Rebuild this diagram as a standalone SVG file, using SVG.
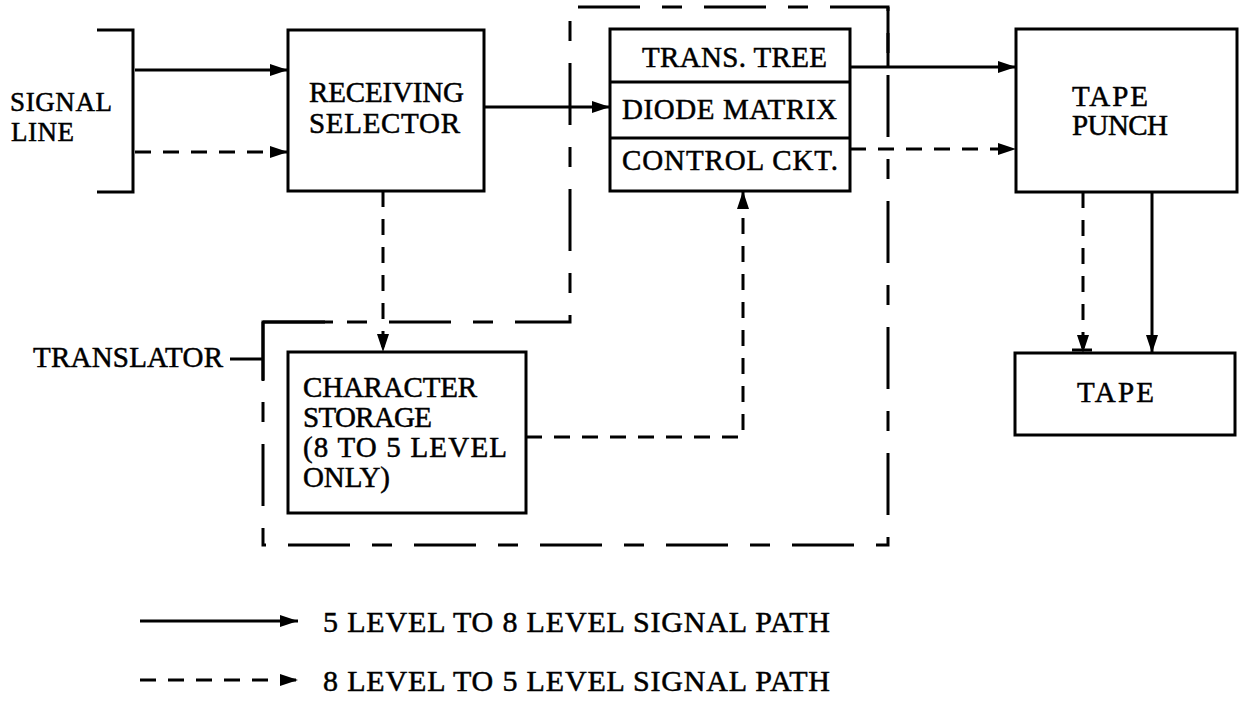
<svg xmlns="http://www.w3.org/2000/svg" width="1241" height="711" viewBox="0 0 1241 711">
<defs>
<marker id="ah" markerUnits="userSpaceOnUse" markerWidth="18" markerHeight="12" refX="18" refY="6" orient="auto" viewBox="0 0 18 12"><path d="M0,0 L18,6 L0,12 z" fill="#000"/></marker>
</defs>
<style>
text{font-family:"Liberation Serif","Times New Roman",serif;font-size:29px;fill:#000;stroke:#000;stroke-width:0.5}
.lg{font-size:30px}
.sm{font-size:27px}
.box{fill:#fff;stroke:#000;stroke-width:3}
.s{fill:none;stroke:#000;stroke-width:3}
.d{fill:none;stroke:#000;stroke-width:3;stroke-dasharray:16 12}
.t{fill:none;stroke:#000;stroke-width:3;stroke-dasharray:62 22 20 22}
</style>
<rect width="1241" height="711" fill="#fff"/>
<g id="translator">
<path class="t" d="M263,322 H570 V7 H888 V545 H263 Z"/>
<path class="s" d="M888,7 V67 M263,322 V381 M263,322 H333"/>
<path class="s" d="M230,359 H263"/>
<text x="33" y="367" textLength="190" lengthAdjust="spacing">TRANSLATOR</text>
</g>
<g id="signal-line">
<path class="s" d="M97,30 H133 V192 H97"/>
<text class="sm" x="10" y="111" textLength="102" lengthAdjust="spacing">SIGNAL</text>
<text class="sm" x="11" y="141" textLength="63" lengthAdjust="spacing">LINE</text>
</g>
<g id="receiving-selector">
<rect class="box" x="288" y="30" width="196" height="161"/>
<text x="309" y="102" textLength="155" lengthAdjust="spacing">RECEIVING</text>
<text x="309" y="133" textLength="151" lengthAdjust="spacing">SELECTOR</text>
</g>
<g id="trans-block">
<rect class="box" x="610" y="29" width="240" height="162"/>
<path class="s" d="M610,82 H850 M610,138 H850"/>
<text x="642" y="67" textLength="185" lengthAdjust="spacing">TRANS. TREE</text>
<text x="622" y="119" textLength="215" lengthAdjust="spacing">DIODE MATRIX</text>
<text x="622" y="170" textLength="216" lengthAdjust="spacing">CONTROL CKT.</text>
</g>
<g id="tape-punch">
<rect class="box" x="1016" y="29" width="221" height="163"/>
<text x="1072" y="106" textLength="76" lengthAdjust="spacing">TAPE</text>
<text x="1072" y="135" textLength="96" lengthAdjust="spacing">PUNCH</text>
</g>
<g id="tape">
<rect class="box" x="1015" y="353" width="220" height="82"/>
<text x="1077" y="402" textLength="77" lengthAdjust="spacing">TAPE</text>
</g>
<g id="character-storage">
<rect class="box" x="288" y="352" width="238" height="161"/>
<text x="303" y="397" textLength="174" lengthAdjust="spacing">CHARACTER</text>
<text x="303" y="427" textLength="129" lengthAdjust="spacing">STORAGE</text>
<text x="303" y="457" textLength="204" lengthAdjust="spacing">(8 TO 5 LEVEL</text>
<text x="303" y="487" textLength="87" lengthAdjust="spacing">ONLY)</text>
</g>
<g id="connectors">
<path class="s" d="M135,70 H288" marker-end="url(#ah)"/>
<path class="d" d="M135,152 H288" marker-end="url(#ah)"/>
<path class="s" d="M484,107 H610" marker-end="url(#ah)"/>
<path class="d" d="M383,191 V352" marker-end="url(#ah)"/>
<path class="s" d="M850,67 H1016" marker-end="url(#ah)"/>
<path class="d" d="M850,149 H1016" marker-end="url(#ah)"/>
<path class="d" d="M526,437 H743 V191" marker-end="url(#ah)"/>
<path class="d" d="M1083,192 V353" marker-end="url(#ah)"/>
<path class="s" d="M1072,350 H1092"/>
<path class="s" d="M1152,192 V353" marker-end="url(#ah)"/>
</g>
<g id="legend">
<path class="s" d="M140,621 H298" marker-end="url(#ah)"/>
<text class="lg" x="323" y="632" textLength="507" lengthAdjust="spacing">5 LEVEL TO 8 LEVEL SIGNAL PATH</text>
<path class="d" d="M140,680 H298" marker-end="url(#ah)"/>
<text class="lg" x="323" y="691" textLength="507" lengthAdjust="spacing">8 LEVEL TO 5 LEVEL SIGNAL PATH</text>
</g>
</svg>
